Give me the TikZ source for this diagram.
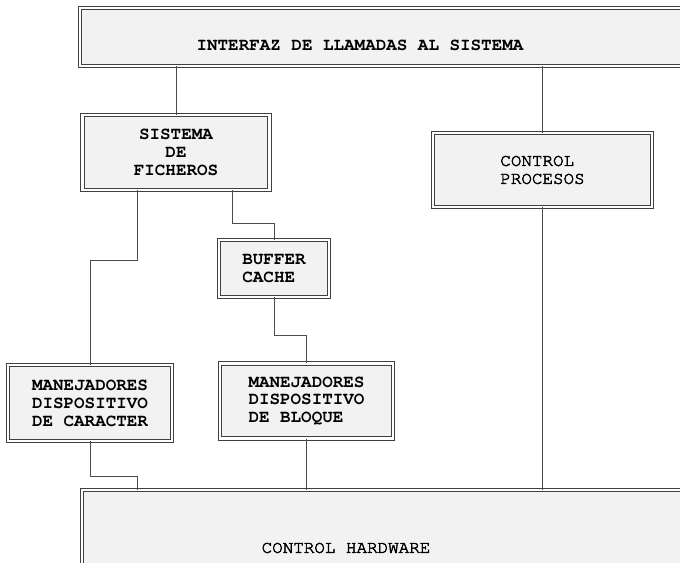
\documentclass[tikz,border=0pt]{standalone}
\usepackage{fontspec}
\setmonofont{texgyrecursor}[Extension=.otf, UprightFont=*-regular, BoldFont=*-bold]
\newfontfamily\medcursor{texgyrecursor-regular.otf}[FakeBold=2.5]
\usetikzlibrary{calc,positioning}

\begin{document}
\begin{tikzpicture}[x=0.02cm,y=-0.02cm,
    box/.style={rectangle, draw=black!75, line width=0.45pt, double=white, double distance=1.4pt, fill=black!5, inner sep=0pt, align=#1, font=\ttfamily\bfseries\fontsize{10}{10.2}\selectfont},
    box/.default=center,
    lbl/.style={font=\ttfamily\bfseries\fontsize{10}{10.2}\selectfont},
    thin/.style={font=\medcursor\fontsize{10}{10.2}\selectfont},
    wire/.style={draw=black!70, line width=0.5pt}]
      \useasboundingbox (0,0) rectangle (680,562);
      \clip (0,0) rectangle (680,562);
      \node (int) [box, minimum width=12.4cm, minimum height=1.16cm] at (390,37) {};
      \node (intlbl) [lbl] at (360,45) {INTERFAZ DE LLAMADAS AL SISTEMA};
      \node (sf) [box, minimum width=3.74cm, minimum height=1.5cm] at (176,152.5) {SISTEMA\\DE\\FICHEROS};
      \node (cp) [box=left, thin, minimum width=4.38cm, minimum height=1.48cm] at (542.5,170) {CONTROL\\PROCESOS};
      \node (bc) [box=left, minimum width=2.2cm, minimum height=1.14cm] at (274,268.5) {BUFFER\\CACHE};
      \node (mdc) [box=left, minimum width=3.28cm, minimum height=1.52cm] at (90,403) {MANEJADORES\\DISPOSITIVO\\DE CARACTER};
      \node (mdb) [box=left, minimum width=3.46cm, minimum height=1.5cm] at (306.5,401) {MANEJADORES\\DISPOSITIVO\\DE BLOQUE};
      \node (ch) [box, minimum width=12.72cm, minimum height=1.6cm] at (400,530) {};
      \node (chlbl) [thin] at (346,548) {CONTROL HARDWARE};
      \coordinate (b1) at (137,260);
      \coordinate (b2) at (232,223);
      \coordinate (b3) at (306.5,335);
      \coordinate (b4) at (137,476);
      \draw[wire] (int.south -| sf.north) -- (sf.north);
      \draw[wire] (int.south -| cp.north) -- (cp.north);
      \draw[wire] (sf.south -| b1) -- (b1) -| (mdc.north);
      \draw[wire] (sf.south -| b2) -- (b2) -| (bc.north);
      \draw[wire] (bc.south) |- (b3) -- (mdb.north);
      \draw[wire] (mdc.south) |- (b4) -- (b4 |- ch.north);
      \draw[wire] (mdb.south) -- (mdb.south |- ch.north);
      \draw[wire] (cp.south) -- (cp.south |- ch.north);
    \end{tikzpicture}
\end{document}
